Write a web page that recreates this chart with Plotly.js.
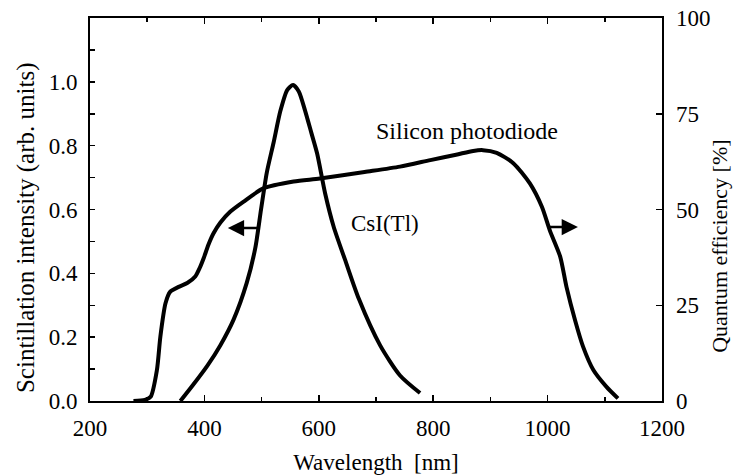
<!DOCTYPE html>
<html>
<head>
<meta charset="utf-8">
<script src="https://cdn.plot.ly/plotly-3.0.1.min.js"></script>
<style>
  html, body { margin: 0; padding: 0; background: #fff; }
  #chart { width: 734px; height: 475px; }
</style>
</head>
<body>
<div id="chart"></div>
<script>
// CsI(Tl) scintillation emission spectrum (left axis, arb. units)
const csiWavelength = [358, 380, 405, 428, 451, 474, 489, 499, 509, 521, 533, 545, 555, 565, 576, 587, 597, 611, 626, 646, 670, 707, 742, 777];
const csiIntensity  = [0.00, 0.05, 0.11, 0.175, 0.255, 0.37, 0.48, 0.60, 0.715, 0.81, 0.91, 0.975, 0.99, 0.97, 0.91, 0.84, 0.776, 0.651, 0.546, 0.442, 0.32, 0.175, 0.08, 0.025];

// Silicon photodiode quantum efficiency (right axis, %)
const siWavelength = [276, 296, 306, 317, 323, 332, 340, 355, 370, 384, 392, 399, 407, 416, 428, 445, 468, 503, 556, 602, 680, 742, 795, 840, 870, 887, 911, 940, 969, 990, 1004, 1022, 1033, 1048, 1062, 1080, 1103, 1123];
const siEfficiency = [0.0, 0.3, 1.1, 8.1, 16.8, 25.5, 28.5, 29.8, 30.8, 32.5, 34.8, 37.4, 40.8, 43.8, 46.6, 49.4, 52.0, 55.5, 57.3, 58.1, 59.8, 61.2, 62.9, 64.3, 65.3, 65.5, 64.8, 62.1, 56.8, 50.7, 44.5, 37.7, 29.8, 21.1, 14.2, 8.1, 3.7, 0.7];

// Axis ticks
const xTicks = [200, 400, 600, 800, 1000, 1200];
const xMinorTicks = [300, 500, 700, 900, 1100];
const leftTicks = [0, 0.2, 0.4, 0.6, 0.8, 1.0];
const leftTickLabels = ['0.0', '0.2', '0.4', '0.6', '0.8', '1.0'];
const leftMinorTicks = [0.1, 0.3, 0.5, 0.7, 0.9, 1.1];
const rightTicks = [0, 25, 50, 75, 100];

const serif = '"Liberation Serif", "Times New Roman", serif';
const ink = '#000';

const traces = [
  {
    x: csiWavelength, y: csiIntensity, type: 'scatter', mode: 'lines',
    line: { color: ink, width: 4, shape: 'spline', smoothing: 0.7 },
    yaxis: 'y', hoverinfo: 'skip'
  },
  {
    x: siWavelength, y: siEfficiency, type: 'scatter', mode: 'lines',
    line: { color: ink, width: 4, shape: 'spline', smoothing: 0.7 },
    yaxis: 'y2', hoverinfo: 'skip'
  }
];

const layout = {
  width: 734, height: 475,
  margin: { l: 90, r: 72, t: 18, b: 74 },
  paper_bgcolor: '#fff', plot_bgcolor: '#fff',
  showlegend: false,
  font: { family: serif, size: 23, color: ink },
  xaxis: {
    range: [200, 1200], tickmode: 'array', tickvals: xTicks,
    ticks: 'inside', ticklen: 6, tickwidth: 1.5, tickcolor: ink,
    minor: { tickmode: 'array', tickvals: xMinorTicks, ticks: 'inside', ticklen: 4, tickcolor: ink },
    showline: true, linecolor: ink, linewidth: 2, mirror: 'ticks',
    showgrid: false, zeroline: false,
    tickfont: { family: serif, size: 23, color: ink },
    ticklabelstandoff: 5,
    title: { text: 'Wavelength  [nm]', font: { family: serif, size: 23, color: ink }, standoff: 16 },
    automargin: false
  },
  yaxis: {
    range: [0, 1.2], tickmode: 'array', tickvals: leftTicks, ticktext: leftTickLabels,
    ticks: 'inside', ticklen: 5, tickwidth: 1.5, tickcolor: ink,
    minor: { tickmode: 'array', tickvals: leftMinorTicks, ticks: 'inside', ticklen: 5, tickcolor: ink },
    showline: true, linecolor: ink, linewidth: 2,
    showgrid: false, zeroline: false,
    tickfont: { family: serif, size: 23, color: ink },
    ticklabelstandoff: 6,
    automargin: false
  },
  yaxis2: {
    range: [0, 100], overlaying: 'y', side: 'right',
    tickmode: 'array', tickvals: rightTicks,
    ticks: 'inside', ticklen: 6, tickwidth: 1.5, tickcolor: ink,
    showline: true, linecolor: ink, linewidth: 1.5,
    showgrid: false, zeroline: false,
    tickfont: { family: serif, size: 23, color: ink },
    ticklabelstandoff: 8,
    automargin: false
  },
  annotations: [
    // vertical axis titles
    { xref: 'paper', yref: 'paper', x: -0.112, y: 0.454, xanchor: 'center', yanchor: 'middle',
      textangle: -90, text: 'Scintillation intensity (arb. units)', showarrow: false,
      font: { family: serif, size: 25, color: ink } },
    { xref: 'paper', yref: 'paper', x: 1.1, y: 0.403, xanchor: 'center', yanchor: 'middle',
      textangle: -90, text: 'Quantum efficiency [%]', showarrow: false,
      font: { family: serif, size: 22, color: ink } },
    { x: 859, y: 0.845, xref: 'x', yref: 'y', text: 'Silicon photodiode', showarrow: false,
      font: { family: serif, size: 24, color: ink } },
    { x: 715, y: 0.555, xref: 'x', yref: 'y', text: 'CsI(Tl)', showarrow: false,
      font: { family: serif, size: 23, color: ink } },
    // arrow pointing to the left axis (scintillation curve)
    { x: 441, y: 0.542, ax: 495, ay: 0.542, xref: 'x', yref: 'y', axref: 'x', ayref: 'y',
      text: '', showarrow: true, arrowhead: 2, arrowsize: 1.3, arrowwidth: 2.5, arrowcolor: ink },
    // arrow pointing to the right axis (quantum efficiency curve)
    { x: 1053, y: 0.545, ax: 998, ay: 0.545, xref: 'x', yref: 'y', axref: 'x', ayref: 'y',
      text: '', showarrow: true, arrowhead: 2, arrowsize: 1.3, arrowwidth: 2.5, arrowcolor: ink }
  ]
};

Plotly.newPlot('chart', traces, layout, { displayModeBar: false, staticPlot: true });
</script>
</body>
</html>
